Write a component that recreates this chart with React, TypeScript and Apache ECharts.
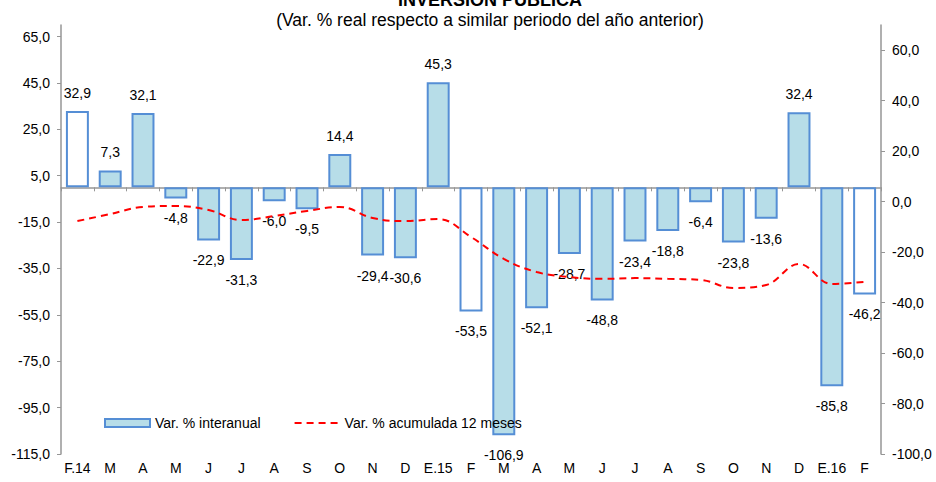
import React, { useEffect, useRef } from "react";
import * as echarts from "echarts";

const categories = ["F.14","M","A","M","J","J","A","S","O","N","D","E.15","F","M","A","M","J","J","A","S","O","N","D","E.16","F"];
const interanual = [32.9, 7.3, 32.1, -4.8, -22.9, -31.3, -6.0, -9.5, 14.4, -29.4, -30.6, 45.3, -53.5, -106.9, -52.1, -28.7, -48.8, -23.4, -18.8, -6.4, -23.8, -13.6, 32.4, -85.8, -46.2];
const acumulada = [-7.7, -4.9, -2.1, -1.7, -3.3, -7.3, -5.7, -3.7, -2.1, -6.5, -7.7, -6.9, -14.0, -22.7, -27.9, -29.9, -30.6, -30.3, -30.6, -31.0, -34.2, -33.0, -24.7, -32.6, -31.8];
const whiteBarIndexes = [0, 12, 24];
const leftTicks = [-115, -95, -75, -55, -35, -15, 5, 25, 45, 65];
const rightTicks = [-100, -80, -60, -40, -20, 0, 20, 40, 60];

const title = "INVERSIÓN PÚBLICA";
const subtitle = "(Var. % real respecto a similar periodo del año anterior)";
const barName = "Var. % interanual";
const lineName = "Var. % acumulada 12 meses";

const fmt = (v: number) => v.toFixed(1).replace(".", ",");
const FONT = "Liberation Sans";
const AXIS_COLOR = "#969696";

export default function App() {
  const ref = useRef<HTMLDivElement>(null);
  useEffect(() => {
    if (!ref.current) return;
    const chart = echarts.init(ref.current, null, { renderer: "svg" });
    chart.setOption({
      animation: false,
      textStyle: { fontFamily: FONT },
      graphic: [
        {
          type: "text",
          x: 490,
          y: 9,
          style: {
            text: title,
            textAlign: "center",
            textVerticalAlign: "bottom",
            font: `bold 18px ${FONT}`,
            fill: "#000",
          },
        },
        {
          type: "text",
          x: 490,
          y: 20,
          style: {
            text: subtitle,
            textAlign: "center",
            textVerticalAlign: "middle",
            font: `17.5px ${FONT}`,
            fill: "#000",
          },
        },
      ],
      legend: {
        left: 99,
        top: 411,
        itemWidth: 45,
        itemHeight: 8,
        itemGap: 33,
        textStyle: { fontSize: 14, color: "#000", fontFamily: FONT },
        data: [
          { name: barName, icon: "rect" },
          { name: lineName, itemStyle: { opacity: 0 } },
        ],
      },
      grid: { left: 61, right: 55, top: 25, bottom: 28, containLabel: false },
      xAxis: [
        {
          type: "category",
          data: categories,
          position: "bottom",
          axisLine: { show: false, onZero: false },
          axisTick: { show: false },
          axisLabel: { fontSize: 14, color: "#000", margin: 7, interval: 0, fontFamily: FONT },
        },
        {
          type: "category",
          data: categories,
          position: "bottom",
          axisLine: { show: true, onZero: true, onZeroAxisIndex: 0, lineStyle: { color: AXIS_COLOR, width: 1.5 } },
          axisTick: { show: true, length: 4, lineStyle: { color: AXIS_COLOR } },
          axisLabel: { show: false },
        },
      ],
      yAxis: [
        {
          type: "value",
          min: -115,
          max: 70,
          position: "left",
          splitLine: { show: false },
          axisLine: { show: true, lineStyle: { color: AXIS_COLOR, width: 1.5 } },
          axisTick: { show: true, length: 4, customValues: leftTicks, lineStyle: { color: AXIS_COLOR } },
          axisLabel: { fontSize: 14, color: "#000", margin: 11, customValues: leftTicks, formatter: (v: number) => fmt(v), fontFamily: FONT },
        },
        {
          type: "value",
          min: -100,
          max: 70,
          position: "right",
          splitLine: { show: false },
          axisLine: { show: true, lineStyle: { color: AXIS_COLOR, width: 1.5 } },
          axisTick: { show: true, length: 4, customValues: rightTicks, lineStyle: { color: AXIS_COLOR } },
          axisLabel: { fontSize: 14, color: "#000", margin: 11, customValues: rightTicks, formatter: (v: number) => fmt(v), fontFamily: FONT },
        },
      ],
      series: [
        {
          name: barName,
          type: "bar",
          xAxisIndex: 0,
          yAxisIndex: 0,
          barCategoryGap: "30%",
          itemStyle: { color: "#b7dde8", borderColor: "#558ed5", borderWidth: 2 },
          data: interanual.map((v, i) => ({
            value: v,
            itemStyle: whiteBarIndexes.includes(i) ? { color: "#ffffff" } : undefined,
            label: {
              show: true,
              position: v >= 0 ? "top" : "bottom",
              distance: v >= 0 ? 11 : 13,
              formatter: () => fmt(v),
              fontSize: 14,
              color: "#000",
              fontFamily: FONT,
            },
          })),
          z: 2,
        },
        {
          name: lineName,
          type: "line",
          xAxisIndex: 0,
          yAxisIndex: 1,
          smooth: 0.4,
          symbol: "none",
          data: acumulada,
          lineStyle: { color: "#ff0000", width: 2, type: [7, 5] },
          itemStyle: { color: "#ff0000" },
          z: 3,
        },
      ],
    });
    return () => chart.dispose();
  }, []);
  return (
    <div
      ref={ref}
      style={{ position: "absolute", left: 0, top: 0, width: 936, height: 482 }}
    />
  );
}
